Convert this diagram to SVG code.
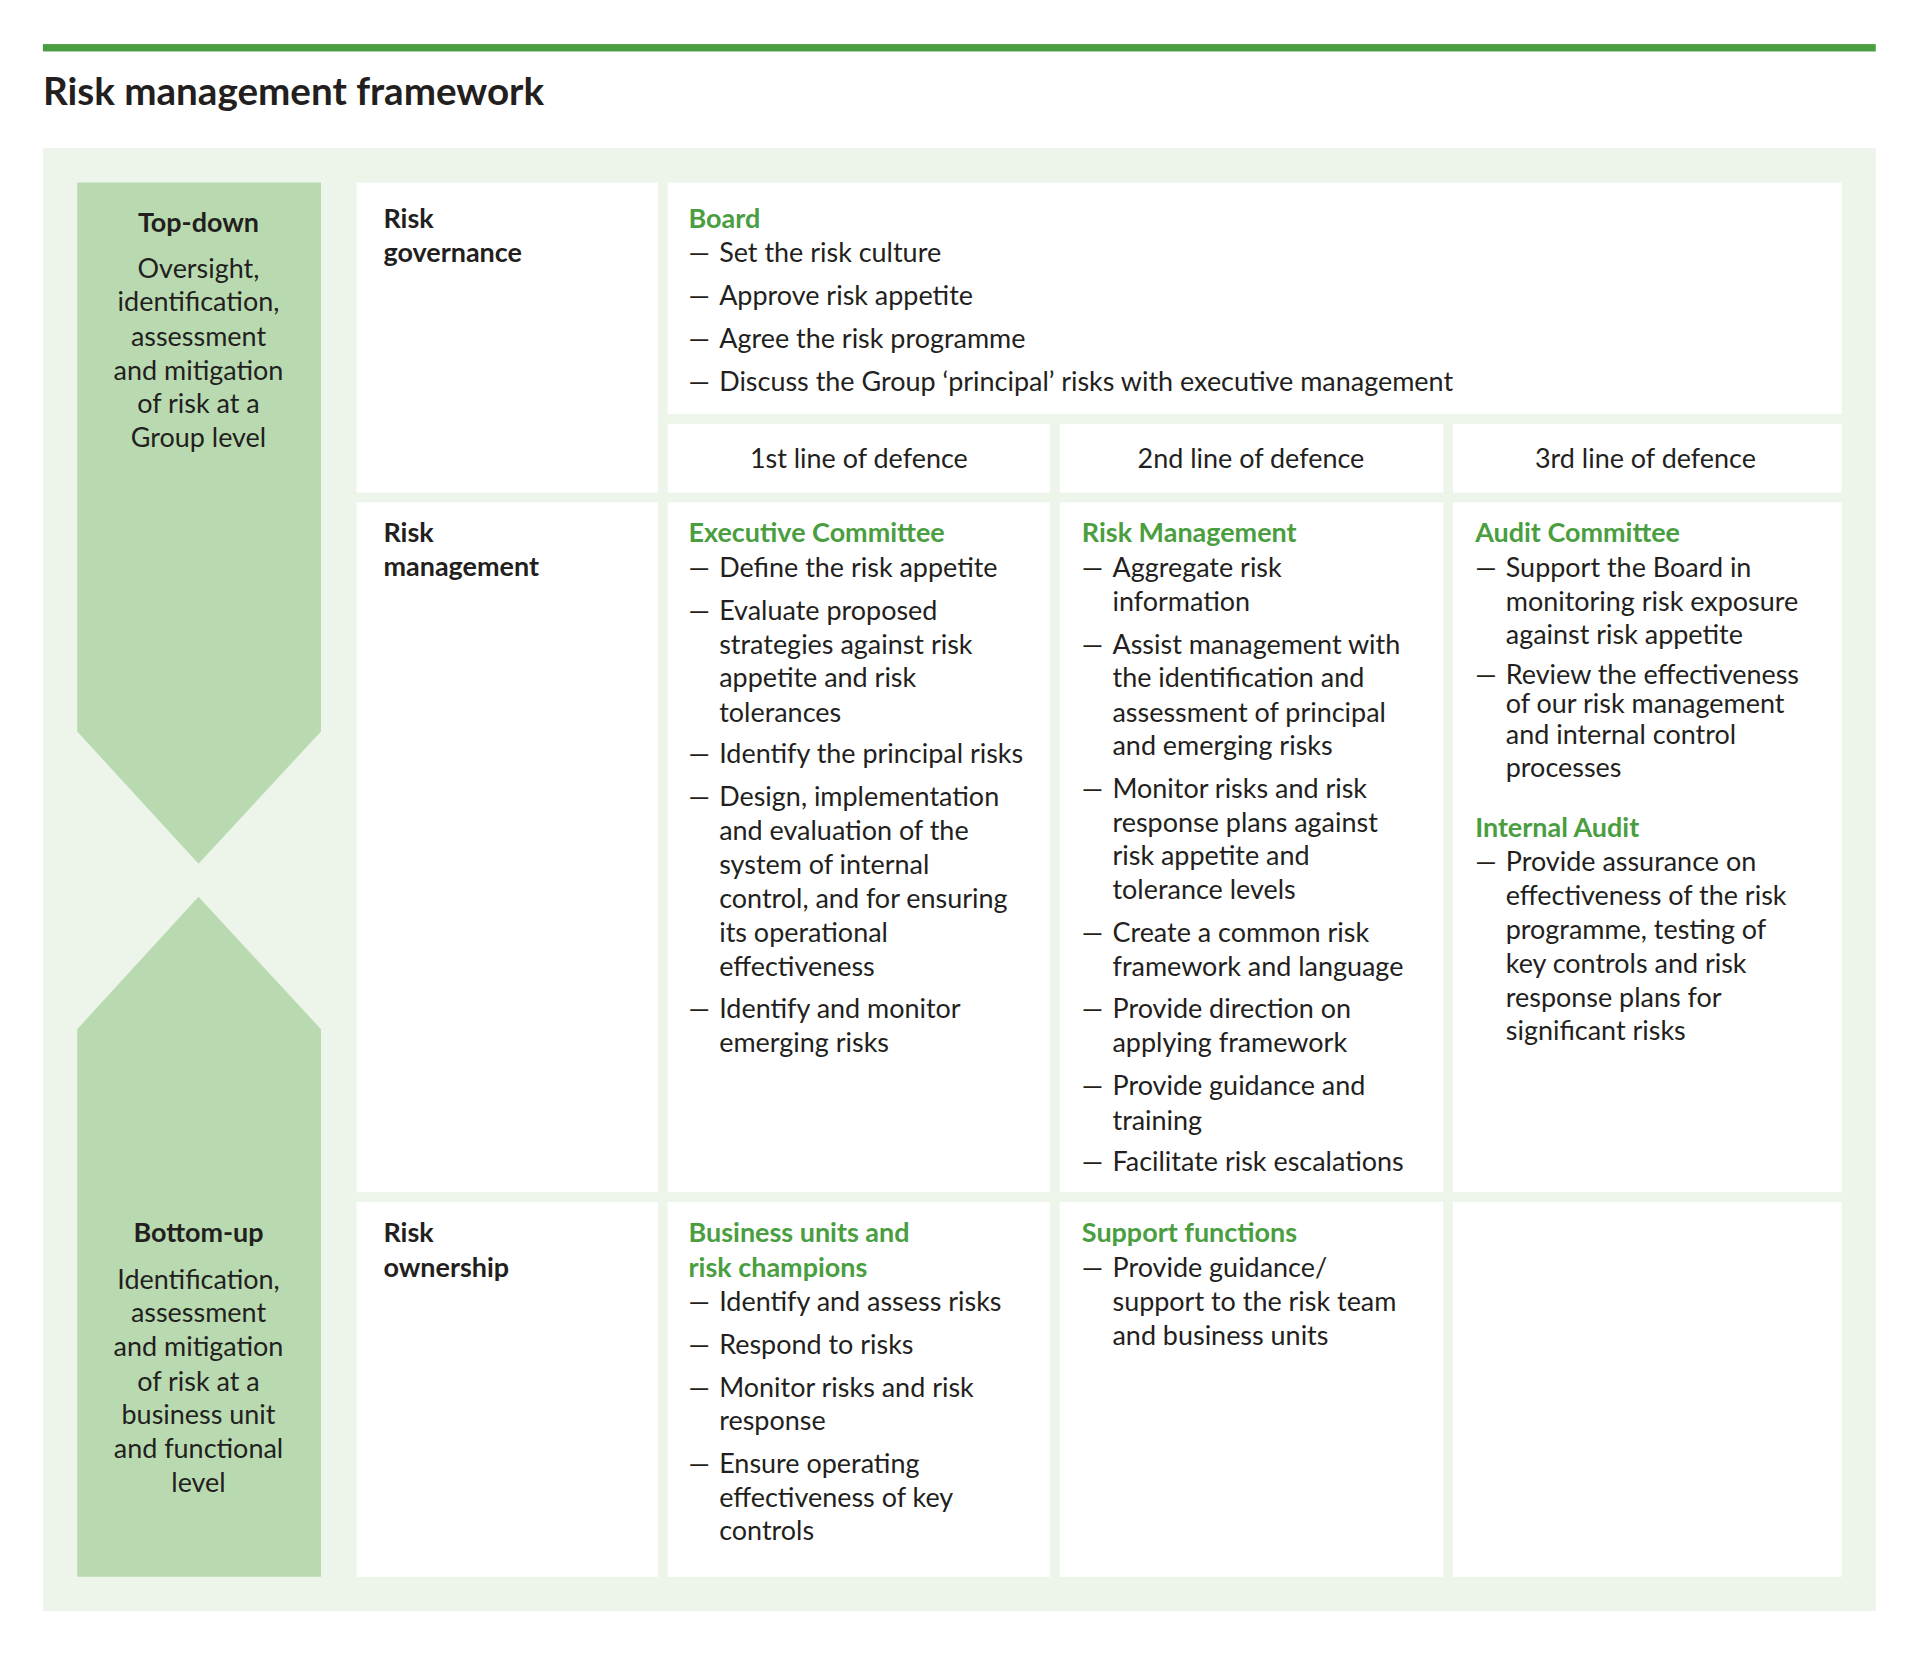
<svg xmlns="http://www.w3.org/2000/svg" width="1920" height="1658" viewBox="0 0 1920 1658">
<style>
text{font-family:Lato,"Open Sans","Liberation Sans",sans-serif;font-size:22px;fill:#231f20}
.b{font-weight:bold}
.g{fill:#4a9e3f;font-weight:bold}
.c{text-anchor:middle}
.cell{fill:#fff}
</style>
<rect width="1920" height="1658" fill="#fff"/>
<g transform="scale(1.2252)">
<rect x="35" y="36" width="1496" height="6" fill="#4a9e3f"/>
<text x="35" y="86" class="b" style="font-size:31.5px">Risk management framework</text>
<rect x="35" y="121" width="1496" height="1194" fill="#edf5ea"/>
<g id="topdown">
<path d="M63 149H262V597L162 705L63 597Z" fill="#b9dab0"/>
<text class="c b" x="162" y="189">Top-down</text>
<text class="c" x="162" y="227">Oversight,</text>
<text class="c" x="162" y="254">identification,</text>
<text class="c" x="162" y="282">assessment</text>
<text class="c" x="162" y="310">and mitigation</text>
<text class="c" x="162" y="337">of risk at a</text>
<text class="c" x="162" y="365">Group level</text>
</g>
<g id="bottomup">
<path d="M162 732L262 840V1287H63V840Z" fill="#b9dab0"/>
<text class="c b" x="162" y="1014">Bottom-up</text>
<text class="c" x="162" y="1052">Identification,</text>
<text class="c" x="162" y="1079">assessment</text>
<text class="c" x="162" y="1107">and mitigation</text>
<text class="c" x="162" y="1135">of risk at a</text>
<text class="c" x="162" y="1162">business unit</text>
<text class="c" x="162" y="1190">and functional</text>
<text class="c" x="162" y="1218">level</text>
</g>
<g id="gov-label"><rect class="cell" x="291" y="149" width="246" height="253"/>
<text class="b" x="313" y="186">Risk</text><text class="b" x="313" y="214">governance</text></g>
<g id="mgmt-label"><rect class="cell" x="291" y="410" width="246" height="563"/>
<text class="b" x="313" y="442">Risk</text><text class="b" x="313" y="470">management</text></g>
<g id="own-label"><rect class="cell" x="291" y="981" width="246" height="306"/>
<text class="b" x="313" y="1014">Risk</text><text class="b" x="313" y="1042">ownership</text></g>
<g id="board"><rect class="cell" x="545" y="149" width="958" height="189"/>
<text class="g" x="562" y="186">Board</text>
<text x="562" y="214">—</text><text x="587" y="214">Set the risk culture</text>
<text x="562" y="249">—</text><text x="587" y="249">Approve risk appetite</text>
<text x="562" y="284">—</text><text x="587" y="284">Agree the risk programme</text>
<text x="562" y="319">—</text><text x="587" y="319">Discuss the Group ‘principal’ risks with executive management</text>
</g>
<g id="h1"><rect class="cell" x="545" y="346" width="312" height="56"/><text class="c" x="701" y="382">1st line of defence</text></g>
<g id="h2"><rect class="cell" x="865" y="346" width="313" height="56"/><text class="c" x="1021" y="382">2nd line of defence</text></g>
<g id="h3"><rect class="cell" x="1186" y="346" width="317" height="56"/><text class="c" x="1343" y="382">3rd line of defence</text></g>
<g id="exec"><rect class="cell" x="545" y="410" width="312" height="563"/>
<text class="g" x="562" y="442">Executive Committee</text>
<text x="562" y="471">—</text><text x="587" y="471">Define the risk appetite</text>
<text x="562" y="506">—</text><text x="587" y="506">Evaluate proposed</text>
<text x="587" y="534">strategies against risk</text><text x="587" y="561">appetite and risk</text><text x="587" y="589">tolerances</text>
<text x="562" y="623">—</text><text x="587" y="623">Identify the principal risks</text>
<text x="562" y="658">—</text><text x="587" y="658">Design, implementation</text>
<text x="587" y="686">and evaluation of the</text><text x="587" y="713">system of internal</text><text x="587" y="741">control, and for ensuring</text><text x="587" y="769">its operational</text><text x="587" y="797">effectiveness</text>
<text x="562" y="831">—</text><text x="587" y="831">Identify and monitor</text><text x="587" y="859">emerging risks</text>
</g>
<g id="riskmgmt"><rect class="cell" x="865" y="410" width="313" height="563"/>
<text class="g" x="883" y="442">Risk Management</text>
<text x="883" y="471">—</text><text x="908" y="471">Aggregate risk</text><text x="908" y="499">information</text>
<text x="883" y="534">—</text><text x="908" y="534">Assist management with</text><text x="908" y="561">the identification and</text><text x="908" y="589">assessment of principal</text><text x="908" y="616">and emerging risks</text>
<text x="883" y="651">—</text><text x="908" y="651">Monitor risks and risk</text><text x="908" y="679">response plans against</text><text x="908" y="706">risk appetite and</text><text x="908" y="734">tolerance levels</text>
<text x="883" y="769">—</text><text x="908" y="769">Create a common risk</text><text x="908" y="797">framework and language</text>
<text x="883" y="831">—</text><text x="908" y="831">Provide direction on</text><text x="908" y="859">applying framework</text>
<text x="883" y="894">—</text><text x="908" y="894">Provide guidance and</text><text x="908" y="922">training</text>
<text x="883" y="956">—</text><text x="908" y="956">Facilitate risk escalations</text>
</g>
<g id="audit"><rect class="cell" x="1186" y="410" width="317" height="563"/>
<text class="g" x="1204" y="442">Audit Committee</text>
<text x="1204" y="471">—</text><text x="1229" y="471">Support the Board in</text><text x="1229" y="499">monitoring risk exposure</text><text x="1229" y="526">against risk appetite</text>
<text x="1204" y="558">—</text><text x="1229" y="558">Review the effectiveness</text><text x="1229" y="582">of our risk management</text><text x="1229" y="607">and internal control</text><text x="1229" y="634">processes</text>
<text class="g" x="1204" y="683">Internal Audit</text>
<text x="1204" y="711">—</text><text x="1229" y="711">Provide assurance on</text><text x="1229" y="739">effectiveness of the risk</text><text x="1229" y="766">programme, testing of</text><text x="1229" y="794">key controls and risk</text><text x="1229" y="822">response plans for</text><text x="1229" y="849">significant risks</text>
</g>
<g id="bu"><rect class="cell" x="545" y="981" width="312" height="306"/>
<text class="g" x="562" y="1014">Business units and</text><text class="g" x="562" y="1042">risk champions</text>
<text x="562" y="1070">—</text><text x="587" y="1070">Identify and assess risks</text>
<text x="562" y="1105">—</text><text x="587" y="1105">Respond to risks</text>
<text x="562" y="1140">—</text><text x="587" y="1140">Monitor risks and risk</text><text x="587" y="1167">response</text>
<text x="562" y="1202">—</text><text x="587" y="1202">Ensure operating</text><text x="587" y="1230">effectiveness of key</text><text x="587" y="1257">controls</text>
</g>
<g id="support"><rect class="cell" x="865" y="981" width="313" height="306"/>
<text class="g" x="883" y="1014">Support functions</text>
<text x="883" y="1042">—</text><text x="908" y="1042">Provide guidance/</text><text x="908" y="1070">support to the risk team</text><text x="908" y="1098">and business units</text>
</g>
<g id="empty"><rect class="cell" x="1186" y="981" width="317" height="306"/></g>
<g id="connectors"/>
</g>
</svg>
